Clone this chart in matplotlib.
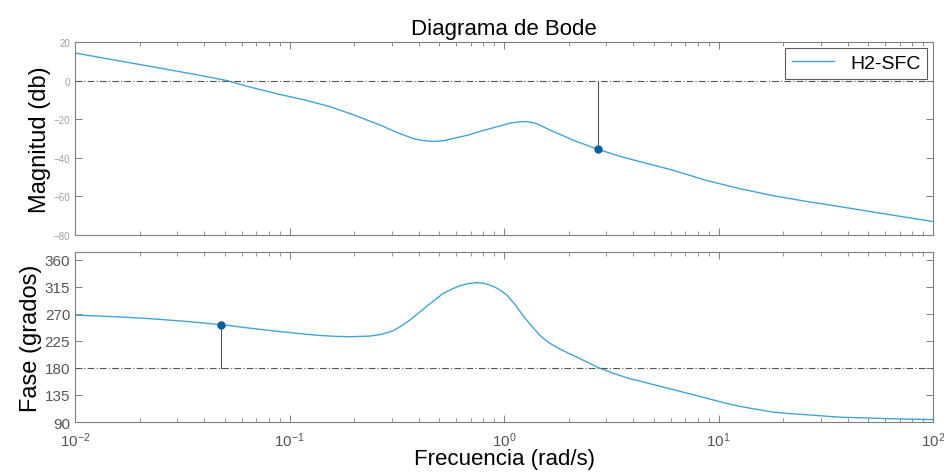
import numpy as np
import matplotlib
matplotlib.use('Agg')
import matplotlib.pyplot as plt
from matplotlib.ticker import LogLocator, NullFormatter

plt.rcParams['font.family'] = ['Liberation Sans', 'DejaVu Sans']

log_w_mag = [-2.0, -1.65, -1.45, -1.291, -1.2, -1.044, -0.93, -0.811, -0.70, -0.578,
             -0.50, -0.424, -0.38, -0.331, -0.28, -0.238, -0.17, -0.112, -0.03,
             0.03, 0.075, 0.107, 0.15, 0.228, 0.33, 0.438, 0.54, 0.634, 0.774,
             0.946, 1.10, 1.254, 1.41, 1.566, 1.80, 2.0]
mag_db = [14.3, 7.4, 3.4, 0.0, -2.9, -7.2, -10.0, -13.5, -17.8, -23.0,
          -26.8, -30.0, -31.0, -31.5, -31.1, -30.0, -28.3, -26.3, -23.8,
          -22.0, -21.3, -21.2, -22.2, -26.3, -31.2, -35.6, -39.2, -42.0, -46.0,
          -51.8, -56.0, -59.6, -62.6, -65.3, -69.5, -73.0]

log_w_fase = [-2.0, -1.8, -1.65, -1.5, -1.315, -1.18, -1.044, -0.95, -0.858, -0.78,
              -0.718, -0.625, -0.57, -0.517, -0.478, -0.438, -0.40, -0.359, -0.32,
              -0.284, -0.245, -0.205, -0.165, -0.126, -0.09, -0.051, -0.02, 0.014,
              0.05, 0.089, 0.13, 0.168, 0.205, 0.247, 0.285, 0.322, 0.38, 0.434,
              0.51, 0.587, 0.634, 0.71, 0.788, 0.87, 0.946, 1.02, 1.10, 1.18,
              1.254, 1.33, 1.413, 1.566, 1.80, 2.0]
fase_deg = [268, 265, 262, 258, 252, 246, 240.5, 237, 234, 232.5,
            232, 233, 236, 242, 250, 260, 271, 283, 294,
            304, 311, 317, 320.5, 322, 320.5, 316, 310, 301,
            286, 267, 249, 234, 223, 214, 207, 201, 191, 181.5,
            171, 162, 158, 151, 144, 136.5, 129.5, 122.5, 116, 111,
            106.5, 104, 102, 98, 95.5, 94]

# margenes: frecuencia de cruce de fase (MG) y de ganancia (MF)
w_mg, mag_mg = 2.74, -35.6
w_mf, fase_mf = 0.048, 252

w_mag = 10 ** np.array(log_w_mag)
w_fase = 10 ** np.array(log_w_fase)

color_linea = '#45a3d4'
color_punto = '#0b5e9c'
gris = '#7f7f7f'

fig = plt.figure(figsize=(9.45, 4.77), dpi=100)
ax1 = fig.add_axes([0.0794, 0.5052, 0.9079, 0.4046])
ax2 = fig.add_axes([0.0794, 0.1132, 0.9079, 0.3564])

# magnitud
ax1.semilogx(w_mag, mag_db, color=color_linea, lw=1.0, label='H2-SFC')
ax1.axhline(0, color='#555555', lw=0.8, ls=(0, (6, 2, 1, 2)))
ax1.plot([w_mg, w_mg], [mag_mg, 0], color='#555555', lw=0.8)
ax1.plot(w_mg, mag_mg, 'o', color=color_punto, ms=5)
ax1.set_xlim(1e-2, 1e2)
ax1.set_ylim(-80, 20)
ax1.set_yticks([-80, -60, -40, -20, 0, 20])
ax1.set_ylabel('Magnitud (db)', fontsize=17, labelpad=2)
ax1.set_title('Diagrama de Bode', fontsize=16, pad=6)
ax1.xaxis.set_major_formatter(NullFormatter())
ax1.tick_params(axis='y', labelsize=7, colors='#a0a0a0', labelcolor='#a0a0a0')
leg = ax1.legend(loc='upper right', fontsize=14, frameon=True, fancybox=False,
                 handlelength=2.2, borderpad=0.35, borderaxespad=0.3)
leg.get_frame().set_edgecolor('#333333')
leg.get_frame().set_linewidth(0.8)

# fase
ax2.semilogx(w_fase, fase_deg, color=color_linea, lw=1.0)
ax2.axhline(180, color='#555555', lw=0.8, ls=(0, (6, 2, 1, 2)))
ax2.plot([w_mf, w_mf], [180, fase_mf], color='#555555', lw=0.8)
ax2.plot(w_mf, fase_mf, 'o', color=color_punto, ms=5)
ax2.set_xlim(1e-2, 1e2)
ax2.set_ylim(90, 373)
ax2.set_yticks([90, 135, 180, 225, 270, 315, 360])
ax2.set_ylabel('Fase (grados)', fontsize=17, labelpad=2)
ax2.set_xlabel('Frecuencia (rad/s)', fontsize=16, labelpad=-1)
ax2.tick_params(axis='both', labelsize=11, labelcolor='#555555')
ax2.tick_params(axis='x', pad=6)

for ax in (ax1, ax2):
    ax.xaxis.set_major_locator(LogLocator(base=10, numticks=10))
    ax.xaxis.set_minor_locator(LogLocator(base=10, subs=np.arange(2, 10), numticks=20))
    ax.xaxis.set_minor_formatter(NullFormatter())
    ax.tick_params(which='both', direction='in', top=True, right=True, color=gris)
    ax.tick_params(which='major', length=5, width=0.7)
    ax.tick_params(which='minor', length=3, width=0.6)
    for s in ax.spines.values():
        s.set_color(gris)
        s.set_linewidth(0.8)

fig.savefig('out.png', dpi=100)
